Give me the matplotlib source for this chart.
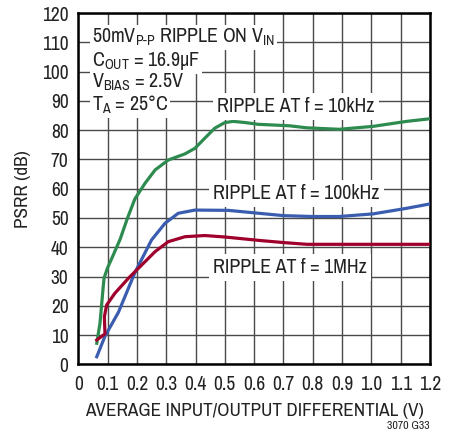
import numpy as np
import matplotlib.pyplot as plt

plt.rcParams.update(
    {
        "font.family": ["Archivo Narrow", "Liberation Sans", "DejaVu Sans"],
        "font.size": 13.8,
        "mathtext.fontset": "custom",
        "mathtext.rm": "Archivo Narrow",
    }
)

# PSRR vs average input/output differential
x_10k = [0.063, 0.074, 0.085, 0.088, 0.10, 0.12, 0.143, 0.168, 0.193, 0.228, 0.262,
         0.307, 0.364, 0.398, 0.432, 0.466, 0.50, 0.529, 0.569, 0.614, 0.72,
         0.78, 0.89, 1.006, 1.12, 1.2]
y_10k = [7.2, 14.0, 26.5, 29.5, 33.0, 37.5, 42.8, 50.0, 56.5, 61.9, 66.4,
         69.8, 71.9, 73.8, 77.3, 80.7, 82.6, 83.0, 82.6, 82.0, 81.5,
         80.8, 80.3, 81.3, 83.0, 83.9]

x_100k = [0.063, 0.091, 0.137, 0.193, 0.25, 0.296, 0.341, 0.398, 0.512, 0.637,
          0.70, 0.80, 0.89, 1.006, 1.12, 1.2]
y_100k = [2.6, 9.6, 17.8, 31.3, 42.5, 48.2, 51.6, 52.7, 52.6, 51.4,
          50.8, 50.5, 50.5, 51.4, 53.3, 54.8]

x_1m = [0.063, 0.091, 0.089, 0.097, 0.125, 0.171, 0.216, 0.262, 0.307, 0.364,
        0.432, 0.50, 0.62, 0.70, 0.78, 1.0, 1.2]
y_1m = [8.3, 10.4, 16.3, 20.3, 24.3, 29.4, 33.9, 38.5, 41.9, 43.6,
        44.0, 43.5, 42.3, 41.6, 41.0, 41.0, 41.0]

xticks = np.arange(0, 1.21, 0.1)
xticklabels = ["0", "0.1", "0.2", "0.3", "0.4", "0.5", "0.6", "0.7", "0.8",
               "0.9", "1.0", "1.1", "1.2"]
yticks = np.arange(0, 121, 10)

fig = plt.figure(figsize=(4.56, 4.36), dpi=100)
ax = fig.add_axes([0.1717, 0.1644, 0.7713, 0.8056])

ax.plot(x_10k, y_10k, color="#2e8b50", lw=2.3, solid_joinstyle="round", zorder=3)
ax.plot(x_100k, y_100k, color="#3a5db0", lw=2.3, solid_joinstyle="round", zorder=3)
ax.plot(x_1m, y_1m, color="#a0002c", lw=2.3, solid_joinstyle="round", zorder=3)

ax.set_xlim(0, 1.2)
ax.set_ylim(0, 120)
ax.set_xticks(xticks)
ax.set_xticklabels(xticklabels)
ax.set_yticks(yticks)
ax.grid(True, color="#4a4a4a", lw=1.0)
ax.set_axisbelow(True)
ax.tick_params(axis="x", length=0, pad=8, labelsize=14, colors="#222222")
ax.tick_params(axis="y", length=0, pad=7, labelsize=14, colors="#222222")
for s in ax.spines.values():
    s.set_linewidth(1.8)
    s.set_color("black")

ax.set_xlabel("AVERAGE INPUT/OUTPUT DIFFERENTIAL (V)", color="#222222", labelpad=6)
ax.set_ylabel("PSRR (dB)", color="#222222", labelpad=8)

fs = 14.4
box = dict(facecolor="white", edgecolor="none", pad=1.5)
ax.text(0.047, 111.6, r"50mV$_{\mathregular{P\text{-}P}}$ RIPPLE ON V$_{\mathregular{IN}}$",
        va="center", ha="left", bbox=box, color="#222222", fontsize=fs)
ax.text(0.047, 103.6, r"C$_{\mathregular{OUT}}$ = 16.9µF", va="center", ha="left",
        bbox=box, color="#222222", fontsize=fs)
ax.text(0.047, 96.2, r"V$_{\mathregular{BIAS}}$ = 2.5V", va="center", ha="left",
        bbox=box, color="#222222", fontsize=fs)
ax.text(0.047, 88.8, r"T$_{\mathregular{A}}$ = 25°C", va="center", ha="left",
        bbox=box, color="#222222", fontsize=fs)

lbl_box = dict(facecolor="white", edgecolor="none", pad=3)
ax.text(0.474, 88.0, "RIPPLE AT f = 10kHz", va="center", ha="left",
        bbox=lbl_box, color="#222222", fontsize=fs)
ax.text(0.46, 58.3, "RIPPLE AT f = 100kHz", va="center", ha="left",
        bbox=lbl_box, color="#222222", fontsize=fs)
ax.text(0.46, 33.1, "RIPPLE AT f = 1MHz", va="center", ha="left",
        bbox=lbl_box, color="#222222", fontsize=fs)

fig.text(0.943, 0.012, "3070 G33", ha="right", va="bottom", fontsize=8.5,
         color="#222222")

fig.savefig("out.png", dpi=100)
